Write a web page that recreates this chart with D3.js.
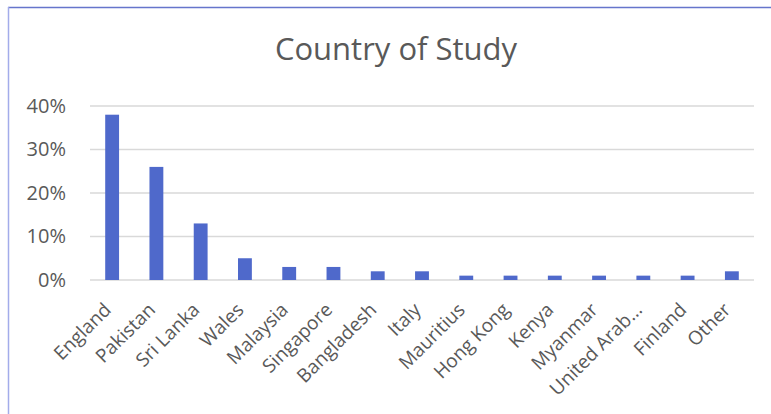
<!DOCTYPE html>
<html>
<head>
<meta charset="utf-8">
<script src="https://cdn.jsdelivr.net/npm/d3@7"></script>
<style>
  body { margin: 0; background: #fff; }
  text { font-family: "Open Sans", sans-serif; fill: #595959; }
</style>
</head>
<body>
<div id="chart"></div>
<script>
// data
var countries = ['England','Pakistan','Sri Lanka','Wales','Malaysia','Singapore','Bangladesh','Italy',
  'Mauritius','Hong Kong','Kenya','Myanmar','United Arab...','Finland','Other'];
var shares = [38, 26, 13, 5, 3, 3, 2, 2, 1, 1, 1, 1, 1, 1, 2];
var yTicks = [0, 10, 20, 30, 40];

var width = 771, height = 414;

var svg = d3.select('#chart')
  .append('svg')
  .attr('width', width)
  .attr('height', height);

// frame: only top & left edges show in the crop
svg.append('line').attr('x1', 8).attr('y1', 7.5).attr('x2', width).attr('y2', 7.5)
  .style('stroke', '#6675cc').style('stroke-width', 1.5);
svg.append('line').attr('x1', 8.5).attr('y1', 7).attr('x2', 8.5).attr('y2', height)
  .style('stroke', '#a3acea').style('stroke-width', 1.5);

// title
svg.append('text')
  .attr('x', 396).attr('y', 60)
  .attr('text-anchor', 'middle')
  .style('font-size', '31px')
  .text('Country of Study');

var x = d3.scaleBand()
  .domain(countries)
  .range([90, 754])
  .paddingInner(0.687)
  .paddingOuter(0.3435);

var y = d3.scaleLinear()
  .domain([0, 40])
  .range([280, 106]);

// gridlines
svg.append('g')
  .selectAll('line')
  .data(yTicks)
  .enter().append('line')
  .attr('x1', 90).attr('x2', 754)
  .attr('y1', d => y(d)).attr('y2', d => y(d))
  .style('stroke', '#d9d9d9').style('stroke-width', 1.5);

// y axis labels
var yAxis = svg.append('g')
  .attr('transform', 'translate(90,0)')
  .call(d3.axisLeft(y).tickValues(yTicks).tickSize(0).tickPadding(24).tickFormat(d => d + '%'));
yAxis.select('.domain').remove();
yAxis.selectAll('text').style('font-size', '20px').style('fill', '#595959');

// bars
svg.selectAll('.bar')
  .data(shares)
  .enter().append('rect')
  .attr('class', 'bar')
  .attr('x', (d, i) => x(countries[i]))
  .attr('width', x.bandwidth())
  .attr('y', d => y(d))
  .attr('height', d => y(0) - y(d))
  .style('fill', '#4f69cb');

// x axis labels
var xAxis = svg.append('g')
  .attr('transform', 'translate(0,280)')
  .call(d3.axisBottom(x).tickSize(0).tickPadding(0));
xAxis.select('.domain').remove();
xAxis.selectAll('text')
  .style('font-size', '19px')
  .style('fill', '#595959')
  .attr('text-anchor', 'end')
  .attr('dy', '0')
  .attr('transform', 'translate(0,31) rotate(-45)');
</script>
</body>
</html>
